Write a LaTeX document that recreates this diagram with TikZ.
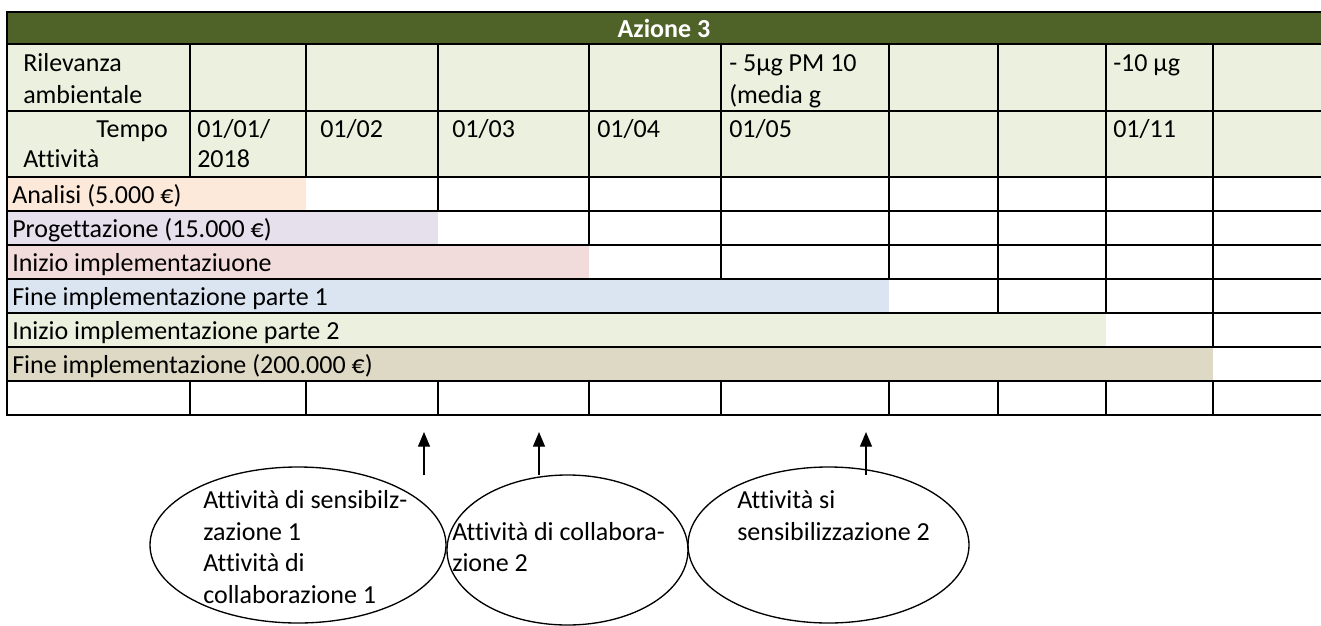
\documentclass[tikz,border=0pt]{standalone}
\usepackage{fontspec}
\setmainfont{Carlito}[Ligatures=NoCommon]
\usetikzlibrary{arrows.meta,positioning,shapes.geometric}
\definecolor{azhead}{HTML}{4F6228}
\definecolor{azgreen}{HTML}{EBF1DE}
\definecolor{azpeach}{HTML}{FDE9D9}
\definecolor{azlav}{HTML}{E5E0EC}
\definecolor{azpink}{HTML}{F2DCDB}
\definecolor{azblue}{HTML}{DBE5F1}
\definecolor{aztan}{HTML}{DDD9C4}
\begin{document}
\begin{tikzpicture}[x=0.75pt,y=-0.75pt,font=\fontsize{19.5}{24}\selectfont]
  \tikzstyle{grid}=[line width=1.6pt,line cap=rect]
  \tikzstyle{txt}=[inner sep=0pt,anchor=base west]
  \tikzstyle{bubble}=[ellipse,draw,line width=1pt,inner sep=0pt]
  \tikzstyle{up}=[line width=1pt,-{Triangle[length=11pt,width=9pt]}]
  \useasboundingbox (0,0) rectangle (1321,625);
  % sfondi
  \fill[azhead] (7,12) rectangle (1321,44);
  \fill[azgreen] (7,44) rectangle (1321,177);
  \foreach \y/\e/\c in {177/306/azpeach,211/438/azlav,245/589/azpink,279/889/azblue,313/1106/azgreen,347/1213/aztan}
    \fill[\c] (7,\y) rectangle (\e,\y+34);
  % griglia
  \foreach \y in {12,44,111,177,211,245,279,313,347,381,415}
    \draw[grid] (7,\y) -- (1321,\y);
  \draw[grid] (7,12) -- (7,415);
  \foreach \c in {190,306,438,589,721,889,998,1106,1213} {
    \draw[grid] (\c,44) -- (\c,177);
    \draw[grid] (\c,381) -- (\c,415);
  }
  \foreach \y/\e in {177/306,211/438,245/589,279/889,313/1106,347/1213}
    \foreach \c in {190,306,438,589,721,889,998,1106,1213} {
      \ifnum\c>\e\relax \draw[grid] (\c,\y) -- (\c,\y+34); \fi
    }
  % testi
  \node[txt,anchor=base,text=white,font=\fontsize{19.5}{24}\selectfont\bfseries] (title) at (664,37) {Azione 3};
  \node[txt] (ril) at (23,71) {Rilevanza};
  \node[txt] (amb) at (23,103) {ambientale};
  \node[txt] (pm) at (729,71) {- 5µg PM 10};
  \node[txt] (media) at (729,103) {(media g};
  \node[txt] (dieci) at (1113,71) {-10 µg};
  \node[txt,anchor=base east] (tempo) at (168,137) {Tempo};
  \node[txt] (attiv) at (23,167) {Attività};
  \node[txt] (d1) at (197,137) {01/01/};
  \node[txt] (anno) at (197,167) {2018};
  \node[txt] (d2) at (320,137) {01/02};
  \node[txt] (d3) at (452,137) {01/03};
  \node[txt] (d4) at (597,137) {01/04};
  \node[txt] (d5) at (729,137) {01/05};
  \node[txt] (d11) at (1113,137) {01/11};
  \foreach \y/\t [count=\i] in {203/Analisi (5.000 €),237/Progettazione (15.000 €),271/Inizio implementaziuone,305/Fine implementazione parte 1,339/Inizio implementazione parte 2,373/Fine implementazione (200.000 €)}
    \node[txt] (g\i) at (12,\y) {\t};
  % ellissi
  \node[bubble,minimum width=222pt,minimum height=117pt] (e1) at (298,545) {};
  \node[bubble,minimum width=180.75pt,minimum height=112.5pt] (e2) at (567.5,550) {};
  \node[bubble,minimum width=210.75pt,minimum height=117pt] (e3) at (828.5,545) {};
  \node[txt] (s1) at (203,508) {Attività di sensibilz-};
  \node[txt] (s2) at (203,540) {zazione 1};
  \node[txt] (s3) at (203,571) {Attività di};
  \node[txt] (s4) at (203,603) {collaborazione 1};
  \node[txt] (c1) at (452,540) {Attività di collabora-};
  \node[txt] (c2) at (452,571) {zione 2};
  \node[txt] (r1) at (737,508) {Attività si};
  \node[txt] (r2) at (737,540) {sensibilizzazione 2};
  % frecce
  \coordinate (a1) at (424,475);
  \coordinate (b1) at (424,432);
  \coordinate (a2) at (539,475);
  \coordinate (b2) at (539,432);
  \coordinate (a3) at (866,475);
  \coordinate (b3) at (866,432);
  \draw[up] (a1) -- (b1);
  \draw[up] (a2) -- (b2);
  \draw[up] (a3) -- (b3);
\end{tikzpicture}
\end{document}
